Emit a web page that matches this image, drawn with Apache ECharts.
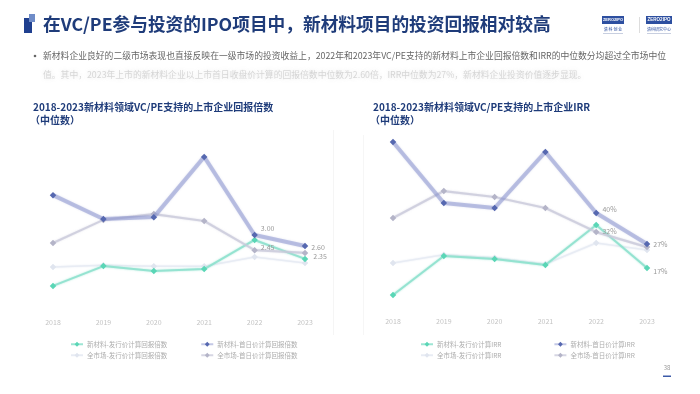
<!DOCTYPE html>
<html>
<head>
<meta charset="utf-8">
<script src="https://cdn.jsdelivr.net/npm/echarts@6/dist/echarts.min.js"></script>
<style>
html,body{margin:0;padding:0;background:#fff;}
#c{width:700px;height:394px;}
</style>
</head>
<body>
<div id="c"></div>
<script>
// ---- data ----
var years = ['2018', '2019', '2020', '2021', '2022', '2023'];

// Chart 1: 回报倍数 (中位数)
var multNames = ['新材料-发行价计算回报倍数', '新材料-首日价计算回报倍数', '全市场-发行价计算回报倍数', '全市场-首日价计算回报倍数'];
var multNewIssue = [1.15, 1.87, 1.69, 1.76, 2.82, 2.13];
var multNewFirst = [4.45, 3.58, 3.65, 5.84, 3.00, 2.60];
var multAllIssue = [1.84, 1.90, 1.86, 1.86, 2.20, 1.98];
var multAllFirst = [2.71, 3.55, 3.76, 3.51, 2.45, 2.35];

// Chart 2: IRR (中位数, %)
var irrNames = ['新材料-发行价计算IRR', '新材料-首日价计算IRR', '全市场-发行价计算IRR', '全市场-首日价计算IRR'];
var irrNewIssue = [5.6, 22.0, 20.7, 18.2, 35.0, 16.9];
var irrNewFirst = [69.8, 44.2, 42.1, 65.6, 40.0, 27.0];
var irrAllIssue = [19.0, 22.5, 21.2, 18.6, 27.4, 24.5];
var irrAllFirst = [37.9, 49.2, 46.7, 42.1, 32.0, 25.7];

var titleText = '在VC/PE参与投资的IPO项目中，新材料项目的投资回报相对较高';
var bullet1 = '新材料企业良好的二级市场表现也直接反映在一级市场的投资收益上，2022年和2023年VC/PE支持的新材料上市企业回报倍数和IRR的中位数分均超过全市场中位';
var bullet2 = '值。其中，2023年上市的新材料企业以上市首日收盘价计算的回报倍数中位数为2.60倍，IRR中位数为27%，新材料企业投资价值逐步显现。';
var chartTitle1 = '2018-2023新材料领域VC/PE支持的上市企业回报倍数';
var chartTitle2 = '2018-2023新材料领域VC/PE支持的上市企业IRR';
var subTitle = '（中位数）';

// ---- styles ----
var FONT = '"Noto Sans CJK SC","Noto Sans",sans-serif';
var NAVY = '#1f3c7a';
var styles = {
  newIssue: {line: 'rgba(140,225,205,0.85)', width: 2, sym: '#5ad6b6', z: 3},
  newFirst: {line: 'rgba(135,145,205,0.5)', width: 4, sym: '#5668b0', z: 5},
  allIssue: {line: '#e8ecf4', width: 1.5, sym: '#e0e5ef', z: 2},
  allFirst: {line: 'rgba(200,200,218,0.75)', width: 2.2, sym: '#b4b4c8', z: 4}
};

function mkData(vals, labelIdx, fmt) {
  return vals.map(function (v, i) {
    var cfg = labelIdx[i];
    if (!cfg) return v;
    return {
      value: v,
      label: {
        show: true, position: 'right', offset: cfg, distance: 3,
        formatter: function (p) { return fmt(p.value); },
        fontSize: 7, color: '#999999', fontFamily: FONT
      }
    };
  });
}
function series(name, vals, st, xi, labels, fmt) {
  return {
    type: 'line', name: name, xAxisIndex: xi, yAxisIndex: xi,
    data: mkData(vals, labels || {}, fmt),
    symbol: 'diamond', symbolSize: 6.5, z: st.z,
    lineStyle: {color: st.line, width: st.width, shadowColor: st.line, shadowBlur: 2},
    itemStyle: {color: st.sym},
    emphasis: {disabled: true},
    animation: false
  };
}
var f1 = function (v) { return v.toFixed(2); };
var f2 = function (v) { return Math.round(v) + '%'; };

function legendCfg(names, left, top, gap) {
  return {
    data: names, left: left, top: top, itemGap: gap, itemWidth: 12, itemHeight: 6,
    textStyle: {fontSize: 6.5, color: '#adadad', fontFamily: FONT, padding: [0, 0, 0, -1]},
    selectedMode: false
  };
}

var xAxisBase = {
  type: 'category', data: years, boundaryGap: false,
  axisLine: {show: false}, axisTick: {show: false}, splitLine: {show: false},
  axisLabel: {fontSize: 7, color: '#c4c4c4', fontFamily: FONT}
};

var chart = echarts.init(document.getElementById('c'), null, {renderer: 'canvas'});
chart.setOption({
  backgroundColor: '#ffffff',
  animation: false,
  grid: [
    {left: 53, width: 252, top: 125, bottom: 76.5},
    {left: 393, width: 254, top: 117.6, bottom: 85.6}
  ],
  xAxis: [
    Object.assign({}, xAxisBase, {gridIndex: 0, axisLabel: Object.assign({}, xAxisBase.axisLabel, {margin: 1})}),
    Object.assign({}, xAxisBase, {gridIndex: 1, axisLabel: Object.assign({}, xAxisBase.axisLabel, {margin: 9})})
  ],
  yAxis: [
    {type: 'value', gridIndex: 0, min: 0, max: 7, show: false},
    {type: 'value', gridIndex: 1, min: 0, max: 80, show: false}
  ],
  legend: [
    legendCfg([multNames[0], multNames[1]], 65, 336, 33),
    legendCfg([multNames[2], multNames[3]], 65, 347, 33),
    legendCfg([irrNames[0], irrNames[1]], 415, 336, 52),
    legendCfg([irrNames[2], irrNames[3]], 415, 347, 52)
  ],
  series: [
    series(multNames[2], multAllIssue, styles.allIssue, 0, {}, f1),
    series(multNames[0], multNewIssue, styles.newIssue, 0, {}, f1),
    series(multNames[3], multAllFirst, styles.allFirst, 0, {4: [0, -3], 5: [2, 3]}, f1),
    series(multNames[1], multNewFirst, styles.newFirst, 0, {4: [0, -7], 5: [0, 1]}, f1),
    series(irrNames[2], irrAllIssue, styles.allIssue, 1, {}, f2),
    series(irrNames[0], irrNewIssue, styles.newIssue, 1, {5: [0, 3]}, f2),
    series(irrNames[3], irrAllFirst, styles.allFirst, 1, {4: [0, -1]}, f2),
    series(irrNames[1], irrNewFirst, styles.newFirst, 1, {4: [0, -4], 5: [0, 0]}, f2)
  ],
  graphic: [
    // title icon
    {type: 'rect', shape: {x: 24, y: 18, width: 8, height: 15}, style: {fill: '#1f3f8f'}},
    {type: 'rect', shape: {x: 29, y: 14, width: 6, height: 8}, style: {fill: '#6f8cc8'}},
    {type: 'text', x: 43, y: 24, style: {text: titleText, font: 'bold 17.7px ' + FONT, fill: NAVY, textVerticalAlign: 'middle'}},
    // logos
    {type: 'rect', shape: {x: 602, y: 16, width: 22, height: 8}, style: {fill: '#2d4fa0'}},
    {type: 'text', x: 613, y: 20, style: {text: 'ZERO2IPO', font: 'bold 4px sans-serif', fill: '#fff', textAlign: 'center', textVerticalAlign: 'middle'}},
    {type: 'text', x: 613, y: 29, style: {text: '清 科 创 业', font: '4px ' + FONT, fill: '#2d4fa0', textAlign: 'center', textVerticalAlign: 'middle'}},
    {type: 'rect', shape: {x: 603, y: 33, width: 20, height: 1}, style: {fill: '#c8cfe0'}},
    {type: 'rect', shape: {x: 639, y: 17, width: 0.8, height: 16}, style: {fill: '#d5d5d5'}},
    {type: 'rect', shape: {x: 646, y: 16, width: 26, height: 8}, style: {fill: '#2d4fa0'}},
    {type: 'text', x: 659, y: 20, style: {text: 'ZERO2IPO', font: 'bold 4.5px sans-serif', fill: '#fff', textAlign: 'center', textVerticalAlign: 'middle'}},
    {type: 'text', x: 659, y: 29, style: {text: '清科研究中心', font: '4px ' + FONT, fill: '#2d4fa0', textAlign: 'center', textVerticalAlign: 'middle'}},
    {type: 'rect', shape: {x: 647, y: 33, width: 24, height: 1}, style: {fill: '#c8cfe0'}},
    // bullet text
    {type: 'circle', shape: {cx: 35, cy: 56, r: 1.3}, style: {fill: '#666'}},
    {type: 'text', x: 43, y: 56, style: {text: bullet1, font: '8.8px ' + FONT, fill: '#666', textVerticalAlign: 'middle'}},
    {type: 'text', x: 43, y: 75, style: {text: bullet2, font: '8.8px ' + FONT, fill: 'rgba(150,150,150,0.35)', textVerticalAlign: 'middle', textShadowColor: 'rgba(140,140,140,0.6)', textShadowBlur: 4}},
    // chart titles
    {type: 'text', x: 33, y: 107, style: {text: chartTitle1, font: 'bold 10px ' + FONT, fill: NAVY, textVerticalAlign: 'middle'}},
    {type: 'text', x: 30, y: 120, style: {text: subTitle, font: 'bold 10px ' + FONT, fill: NAVY, textVerticalAlign: 'middle'}},
    {type: 'text', x: 373, y: 107, style: {text: chartTitle2, font: 'bold 10px ' + FONT, fill: NAVY, textVerticalAlign: 'middle'}},
    {type: 'text', x: 370, y: 120, style: {text: subTitle, font: 'bold 10px ' + FONT, fill: NAVY, textVerticalAlign: 'middle'}},
    // faint panel borders
    {type: 'rect', shape: {x: 333, y: 130, width: 0.7, height: 205}, style: {fill: '#f1f1f1'}},
    {type: 'rect', shape: {x: 363, y: 135, width: 0.7, height: 200}, style: {fill: '#f3f3f3'}},
    // page number
    {type: 'text', x: 667, y: 368, style: {text: '38', font: '6px ' + FONT, fill: '#999', textAlign: 'center', textVerticalAlign: 'middle'}},
    {type: 'rect', shape: {x: 663, y: 375.5, width: 8, height: 1.5}, style: {fill: '#3c5aa8'}}
  ]
});
</script>
</body>
</html>
